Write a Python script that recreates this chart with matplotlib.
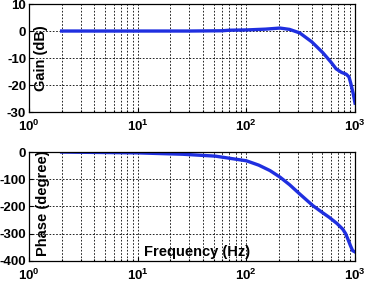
import numpy as np
import matplotlib
matplotlib.use('Agg')
from matplotlib import pyplot as plt
from matplotlib.ticker import LogLocator, NullFormatter

# values
freq_gain = [2, 10, 30, 60, 70, 100, 150, 204, 250, 310, 400, 505, 600, 670, 750, 830, 880, 916, 960, 1000]
gain_db = [0, 0, 0, 0.1, 0.3, 0.4, 0.7, 1.1, 0.6, -0.7, -4.0, -8.0, -11.5, -14.0, -15.3, -16.0, -17.0, -19.5, -23.0, -26.7]

freq_phase = [2, 10, 26, 52, 100, 130, 165, 204, 250, 310, 410, 500, 580, 680, 770, 820, 860, 910, 950, 1000]
phase_deg = [0, -3, -8, -15, -32, -48, -68, -92, -120, -154, -197, -222, -240, -262, -283, -300, -320, -345, -362, -367]

plt.rcParams['font.family'] = ['Liberation Sans', 'DejaVu Sans']
plt.rcParams['font.weight'] = 'bold'
plt.rcParams['axes.unicode_minus'] = False
plt.rcParams['mathtext.fontset'] = 'custom'
plt.rcParams['mathtext.rm'] = 'Liberation Sans:bold'
plt.rcParams['mathtext.it'] = 'Liberation Sans:bold'
plt.rcParams['mathtext.bf'] = 'Liberation Sans:bold'

fig = plt.figure(figsize=(3.66, 2.88), dpi=100)
ax1 = fig.add_axes([0.079, 0.611, 0.891, 0.375])
ax2 = fig.add_axes([0.079, 0.094, 0.891, 0.378])

blue = '#1f2fe0'

def style(ax, yticks):
    ax.set_xscale('log')
    ax.set_xlim(1, 1000)
    ax.set_yticks(yticks)
    ax.xaxis.set_major_locator(LogLocator(base=10, numticks=10))
    ax.xaxis.set_minor_locator(LogLocator(base=10, subs=np.arange(2, 10), numticks=10))
    ax.xaxis.set_minor_formatter(NullFormatter())
    ax.tick_params(which='both', direction='in', labelsize=9.5, length=3, width=0.8)
    ax.tick_params(which='minor', length=1.5)
    ax.tick_params(axis='x', pad=5)
    ax.tick_params(axis='y', pad=2)
    ax.grid(True, which='major', color='black', linestyle=(0, (2, 2)), linewidth=0.6)
    ax.grid(True, which='minor', axis='x', color='black', linestyle=(0, (2, 2)), linewidth=0.6)
    for s in ax.spines.values():
        s.set_linewidth(0.9)
    for lab in ax.get_yticklabels():
        lab.set_fontweight('bold')

ax1.plot(freq_gain, gain_db, color=blue, linewidth=2.4)
ax1.set_ylim(-30, 10)
style(ax1, [-30, -20, -10, 0, 10])
ax1.text(0.037, 0.5, 'Gain (dB)', transform=ax1.transAxes, rotation=90,
         ha='center', va='center', fontsize=10.5, fontweight='bold')

ax2.plot(freq_phase, phase_deg, color=blue, linewidth=2.4)
ax2.set_ylim(-400, 0)
style(ax2, [-400, -300, -200, -100, 0])
ax2.text(0.043, 0.53, 'Phase (degree)', transform=ax2.transAxes, rotation=90,
         ha='center', va='center', fontsize=10.5, fontweight='bold')
ax2.text(0.515, 0.08, 'Frequency (Hz)', transform=ax2.transAxes,
         ha='center', va='center', fontsize=10.5, fontweight='bold')

fig.savefig('out.png', dpi=100)
